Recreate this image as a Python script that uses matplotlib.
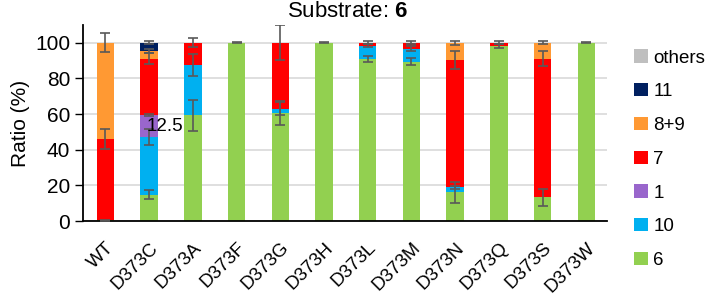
import numpy as np
import matplotlib
matplotlib.use("Agg")
import matplotlib.pyplot as plt

plt.rcParams['font.family'] = ['Liberation Sans', 'DejaVu Sans']
plt.rcParams['mathtext.fontset'] = 'custom'
plt.rcParams['mathtext.rm'] = 'Liberation Sans'
plt.rcParams['mathtext.bf'] = 'Liberation Sans:bold'

strains = ['WT', 'D373C', 'D373A', 'D373F', 'D373G', 'D373H',
           'D373L', 'D373M', 'D373N', 'D373Q', 'D373S', 'D373W']

# product ratios (%) per strain, stacked bottom to top
p6 = [0.5, 14.8, 59.2, 100, 60.5, 100, 90.8, 89.3, 16.3, 98.0, 13.3, 100]
p10 = [0, 32.2, 28.3, 0, 2.6, 0, 7.5, 7.3, 2.6, 0, 0, 0]
p1 = [0, 12.5, 0, 0, 0, 0, 0, 0, 0, 0, 0, 0]
p7 = [45.4, 31.6, 12.5, 0, 36.9, 0, 1.7, 3.4, 71.4, 2.0, 77.7, 0]
p89 = [54.1, 4.3, 0, 0, 0, 0, 0, 0, 9.7, 0, 9.0, 0]
p11 = [0, 4.6, 0, 0, 0, 0, 0, 0, 0, 0, 0, 0]
others = [0, 0, 0, 0, 0, 0, 0, 0, 0, 0, 0, 0]

# standard deviations drawn at the top of each segment
e6 = [0.3, 2.6, 8.7, 0.2, 6.7, 0.2, 1.5, 2.0, 5.9, 1.0, 4.9, 0.2]
e10 = [0, 4.5, 6.0, 0, 3.6, 0, 0.8, 1.5, 1.0, 0, 0, 0]
e1 = [0, 0.5, 0, 0, 0, 0, 0, 0, 0, 0, 0, 0]
e7 = [5.6, 3.0, 2.5, 0, 9.8, 0, 1.0, 1.0, 5.0, 0.8, 4.1, 0]
e89 = [5.4, 1.3, 0, 0, 0, 0, 0, 0, 1.2, 0, 0.8, 0]
e11 = [0, 0.8, 0, 0, 0, 0, 0, 0, 0, 0, 0, 0]

series = [('6', p6, e6, '#92D050'),
          ('10', p10, e10, '#00B0F0'),
          ('1', p1, e1, '#9966CC'),
          ('7', p7, e7, '#FF0000'),
          ('8+9', p89, e89, '#FF9933'),
          ('11', p11, e11, '#002060'),
          ('others', others, None, '#BFBFBF')]

fig = plt.figure(figsize=(7.07, 2.96), dpi=100)
ax = fig.add_axes([0.117, 0.253, 0.742, 0.663])

x = np.arange(len(strains))
bottom = np.zeros(len(strains))
handles = []
tops = []
for name, vals, errs, col in series:
    vals = np.array(vals, dtype=float)
    h = ax.bar(x, vals, 0.4, bottom=bottom, color=col, label=name, zorder=2)
    handles.append(h)
    bottom = bottom + vals
    if errs is not None:
        tops.append((bottom.copy(), np.array(errs, dtype=float)))

for top, errs in tops:
    m = (errs > 0)
    ax.errorbar(x[m], top[m], yerr=errs[m], fmt='none', ecolor='#595959',
                elinewidth=1.2, capsize=3.5, capthick=1.2, zorder=3)

ax.text(1 - 0.06, p6[1] + p10[1] + p1[1] / 2, '12.5', fontsize=13.5,
        ha='left', va='center', zorder=4)

ax.set_xlim(-0.52, 11.48)
ax.set_ylim(0, 110)
ax.set_yticks(range(0, 101, 20))
ax.yaxis.grid(True, color='#D9D9D9', lw=1.2, zorder=0)
ax.set_axisbelow(True)
ax.set_xticks(x)
ax.set_xticklabels(strains, rotation=45, ha='right', rotation_mode='anchor')
ax.tick_params(axis='y', labelsize=15, length=6, width=1, pad=3)
ax.tick_params(axis='x', labelsize=13.5, length=0, pad=13)
for s in ['top', 'right']:
    ax.spines[s].set_visible(False)
ax.spines['left'].set_linewidth(1.3)
ax.spines['bottom'].set_linewidth(1.3)
ax.set_ylabel('Ratio (%)', fontsize=15, labelpad=4)
fig.text(0.492, 0.943, 'Substrate: $\\mathbf{6}$', fontsize=16,
         ha='center', va='baseline')

fig.legend(handles[::-1], [s[0] for s in series][::-1], loc='upper left',
           bbox_to_anchor=(0.884, 0.865), frameon=False, fontsize=13.5,
           handlelength=0.72, handleheight=0.72, handletextpad=0.3,
           labelspacing=0.88, borderpad=0)

fig.savefig('out.png', dpi=100)
